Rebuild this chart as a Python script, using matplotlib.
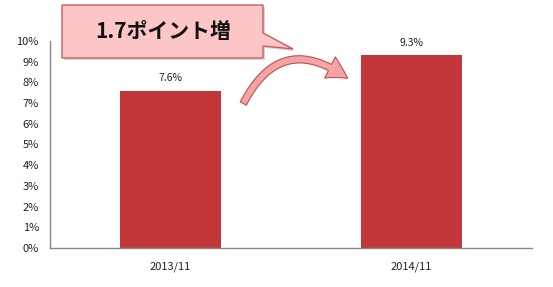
import matplotlib
matplotlib.use("Agg")
import matplotlib.pyplot as plt
from matplotlib.patches import Polygon, FancyArrowPatch
from matplotlib.ticker import PercentFormatter

plt.rcParams['font.family'] = ['Noto Sans CJK JP', 'DejaVu Sans']

categories = ["2013/11", "2014/11"]
values = [7.6, 9.3]
value_labels = ["7.6%", "9.3%"]
callout_text = "1.7ポイント増"

W, H = 553, 287
fig = plt.figure(figsize=(W / 100, H / 100), dpi=100)
ax = fig.add_axes([50 / W, 39 / H, (532 - 50) / W, (248 - 41) / H])

x = range(len(categories))
bars = ax.bar(x, values, width=0.415, color="#C3363A", zorder=2)
for xi, v, lab in zip(x, values, value_labels):
    ax.text(xi, v + 0.35, lab, ha="center", va="bottom", fontsize=7.5, color="#222222")

ax.set_xlim(-0.5, 1.5)
ax.set_ylim(0, 10)
ax.set_yticks(range(0, 11))
ax.yaxis.set_major_formatter(PercentFormatter(decimals=0))
ax.set_xticks(list(x))
ax.set_xticklabels(categories)
ax.tick_params(axis="both", length=0, labelsize=8, colors="#222222")
ax.tick_params(axis="x", pad=10)
ax.tick_params(axis="y", pad=8)
for s in ["top", "right"]:
    ax.spines[s].set_visible(False)
for s in ["left", "bottom"]:
    ax.spines[s].set_color("#888888")
    ax.spines[s].set_linewidth(1.0)


def fx(px):
    return px / W


def fy(py):
    return 1 - py / H


# Callout box
pts = [(62, 5), (263, 5), (263, 33), (293, 49), (263, 46), (263, 58), (62, 58)]
shadow = Polygon([(fx(a + 2), fy(b + 2)) for a, b in pts], closed=True,
                 transform=fig.transFigure, facecolor="#BBBBBB", edgecolor="none",
                 alpha=0.6, zorder=3)
fig.patches.append(shadow)
callout = Polygon([(fx(a), fy(b)) for a, b in pts], closed=True,
                  transform=fig.transFigure, facecolor="#FDC6C6", edgecolor="#D05A5A",
                  linewidth=1.0, zorder=4)
fig.patches.append(callout)
fig.text(fx(163), fy(32), callout_text, ha="center", va="center", fontsize=15,
         fontweight="bold", color="#111111", zorder=5)

# Curved arrow
arrow = FancyArrowPatch((fx(242), fy(106)), (fx(350), fy(80)),
                        transform=fig.transFigure,
                        connectionstyle="arc3,rad=-0.6",
                        arrowstyle="simple,head_width=1.7,head_length=1.5,tail_width=0.5",
                        mutation_scale=10, facecolor="#F4A4A4", edgecolor="#C0504D",
                        linewidth=0.8, zorder=4)
fig.patches.append(arrow)

fig.savefig("out.png", dpi=100)
